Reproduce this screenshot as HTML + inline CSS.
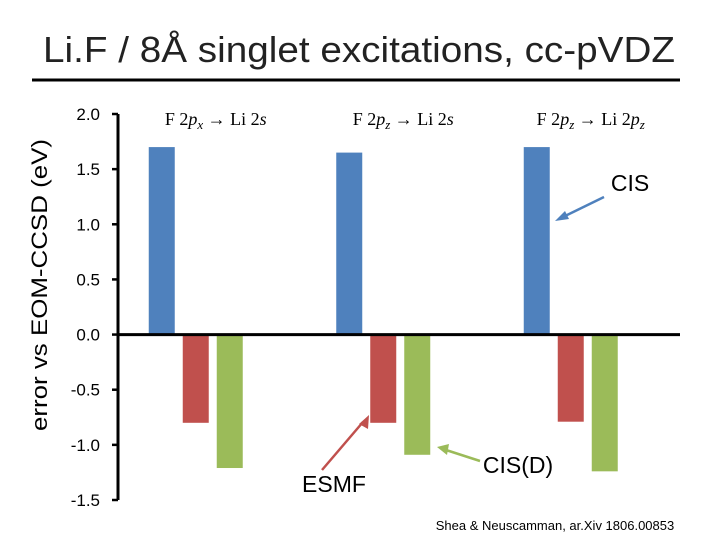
<!DOCTYPE html>
<html><head><meta charset="utf-8"><style>
body{margin:0;width:720px;height:540px;background:#fff;overflow:hidden;font-family:"Liberation Sans",sans-serif}
svg text{font-family:"Liberation Sans",sans-serif}
</style></head><body>
<svg id="c" width="720" height="540">
<text x="359" y="62" text-anchor="middle" font-size="36" fill="#222" textLength="632" lengthAdjust="spacingAndGlyphs">Li.F / 8Å singlet excitations, cc-pVDZ</text>
<line x1="32" y1="80" x2="680" y2="80" stroke="#000" stroke-width="3"/>
<text transform="translate(47,285) rotate(-90)" text-anchor="middle" font-size="22" fill="#000" textLength="292" lengthAdjust="spacingAndGlyphs">error vs EOM-CCSD (eV)</text>
<g id="bars"></g>
<g id="axes"></g>
<text x="630" y="191" text-anchor="middle" font-size="23">CIS</text>
<line x1="604" y1="197" x2="563" y2="217" stroke="#4f81bd" stroke-width="2.5"/>
<polygon points="555,221 565,211 569,219" fill="#4f81bd"/>
<text x="334" y="492" text-anchor="middle" font-size="23">ESMF</text>
<line x1="322" y1="470" x2="363" y2="422" stroke="#c0504d" stroke-width="2.5"/>
<polygon points="369,415 368,429 359,424" fill="#c0504d"/>
<text x="518" y="473" text-anchor="middle" font-size="23">CIS(D)</text>
<line x1="480" y1="461" x2="446" y2="450" stroke="#9bbb59" stroke-width="2.5"/>
<polygon points="437,447 449,444 447,455" fill="#9bbb59"/>
<text x="555" y="530" text-anchor="middle" font-size="13">Shea &amp; Neuscamman, ar.Xiv 1806.00853</text>
</svg>
<script>
const categories=["F 2px → Li 2s","F 2pz → Li 2s","F 2pz → Li 2pz"];
const catLabels=[["F 2","p","x"," \u2192 Li 2","s",""],["F 2","p","z"," \u2192 Li 2","s",""],["F 2","p","z"," \u2192 Li 2","p","z"]];
const cis=[1.70,1.65,1.70];
const esmf=[-0.80,-0.80,-0.79];
const cisd=[-1.21,-1.09,-1.24];
const ticks=[2.0,1.5,1.0,0.5,0.0,-0.5,-1.0,-1.5];
const NS="http://www.w3.org/2000/svg";
const X0=118,X1=680,yTop=114,yBot=500,vMax=2.0,vMin=-1.5;
const y=v=>yTop+(vMax-v)/(vMax-vMin)*(yBot-yTop);
const gw=187.5, G0=102;
const bars=document.getElementById('bars'),axes=document.getElementById('axes');
function mk(t,a,p){const e=document.createElementNS(NS,t);for(const k in a)e.setAttribute(k,a[k]);p.appendChild(e);return e;}
const series=[[cis,"#4f81bd","cis"],[esmf,"#c0504d","esmf"],[cisd,"#9bbb59","cisd"]];
categories.forEach((c,i)=>{
  const cx=G0+gw*(i+0.5);
  series.forEach(([arr,col,nm],j)=>{
    const v=arr[i],x=cx-47+j*34;
    const r=mk('rect',{x:x,y:Math.min(y(v),y(0)),width:26,height:Math.abs(y(v)-y(0)),fill:col},bars);
    
    
  });
  const t=mk('text',{x:cx+20,y:125,'text-anchor':'middle','font-size':18,style:'font-family:"Liberation Serif",serif'},bars);
  
  
  const L=catLabels[i];
  let sub=false;
  [[L[0],''],[L[1],'italic'],[L[2],'sub'],[L[3],''],[L[4],'italic'],[L[5],'sub']].forEach(([s,st])=>{
    if(!s)return;const ts=document.createElementNS(NS,'tspan');ts.textContent=s;
    if(st)ts.setAttribute('font-style','italic');
    if(st==='sub'){ts.setAttribute('font-size','13');ts.setAttribute('dy','4');sub=true;}
    else if(sub){ts.setAttribute('dy','-4');sub=false;}
    t.appendChild(ts);
  });
});
const ax=mk('line',{x1:X0,y1:yTop,x2:X0,y2:yBot,stroke:'#000','stroke-width':3},axes);

const zl=mk('line',{x1:X0,y1:y(0),x2:X1,y2:y(0),stroke:'#000','stroke-width':3},axes);

ticks.forEach(v=>{
  const l=mk('line',{x1:X0-6,y1:y(v),x2:X0,y2:y(v),stroke:'#000','stroke-width':2.5},axes);
  
  const t=mk('text',{x:100,y:y(v)+6,'text-anchor':'end','font-size':17},axes);
  t.textContent=v.toFixed(1);
  
});
</script>
</body></html>
